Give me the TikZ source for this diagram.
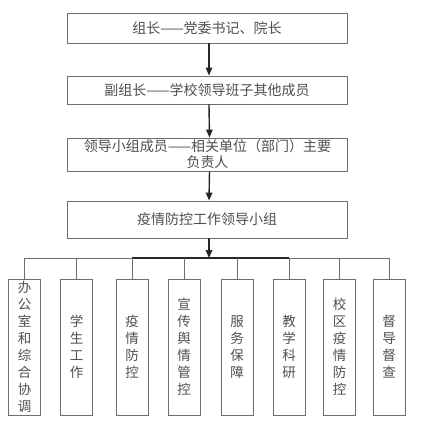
\documentclass[tikz,border=0pt]{standalone}
\usepackage{fontspec}
\newfontfamily\cjk{Noto Sans CJK SC}
\usetikzlibrary{arrows.meta}
\definecolor{boxc}{HTML}{6E6E6E}
\definecolor{txtc}{HTML}{505050}
\definecolor{arrc}{HTML}{262626}
\begin{document}
\begin{tikzpicture}[x=1pt,y=-1pt,
  box/.style={draw=boxc, line width=0.9pt, text=txtc, align=center, inner sep=0pt},
  topbox/.style={box, minimum width=280pt, font=\cjk\fontsize{14}{16}\selectfont},
  subbox/.style={box, minimum width=32pt, minimum height=136pt, font=\cjk\fontsize{13.5}{17}\selectfont},
  arr/.style={draw=arrc, line width=1.4pt, -{Triangle[length=8pt,width=6.5pt]}},
  link/.style={draw=boxc, line width=0.9pt}]
\useasboundingbox (0,0) rectangle (424,426);
\fill[white] (0,0) rectangle (424,426);

\node[topbox, minimum height=30pt] (b1) at (207,28) {组长——党委书记、院长};
\node[topbox, minimum height=28pt] (b2) at (207,90) {副组长——学校领导班子其他成员};
\node[topbox, minimum height=33pt] (b3) at (207.5,154.5) {领导小组成员——相关单位（部门）主要\\负责人};
\node[topbox, minimum height=37pt] (b4) at (207,219.5) {疫情防控工作领导小组};

\draw[arr] ([xshift=2pt]b1.south) -- ([xshift=2pt]b2.north);
\draw[arr] ([xshift=2pt]b2.south) -- ([xshift=2pt]b3.north);
\draw[arr] ([xshift=2pt]b3.south) -- ([xshift=2pt]b4.north);

\coordinate (bus) at (209,258);

\node[subbox] (c1) at (24.5,347) {办\\公\\室\\和\\综\\合\\协\\调};
\node[subbox] (c2) at (76.5,347) {学\\生\\工\\作};
\node[subbox] (c3) at (132,347) {疫\\情\\防\\控};
\node[subbox] (c4) at (184,347) {宣\\传\\舆\\情\\管\\控};
\node[subbox] (c5) at (237,347) {服\\务\\保\\障};
\node[subbox] (c6) at (289,347) {教\\学\\科\\研};
\node[subbox] (c7) at (339.5,347) {校\\区\\疫\\情\\防\\控};
\node[subbox] (c8) at (389,347) {督\\导\\督\\查};

\draw[link] (c1.north |- bus) -- (c8.north |- bus);
\draw[arrc, line width=1.5pt] (c3.north |- bus) -- (c6.north |- bus);
\foreach \c in {c1,c2,c3,c4,c5,c6,c7,c8}
  \draw[link] (\c.north) -- (\c.north |- bus);
\draw[arr] ([xshift=2pt]b4.south) -- (bus);
\end{tikzpicture}
\end{document}
